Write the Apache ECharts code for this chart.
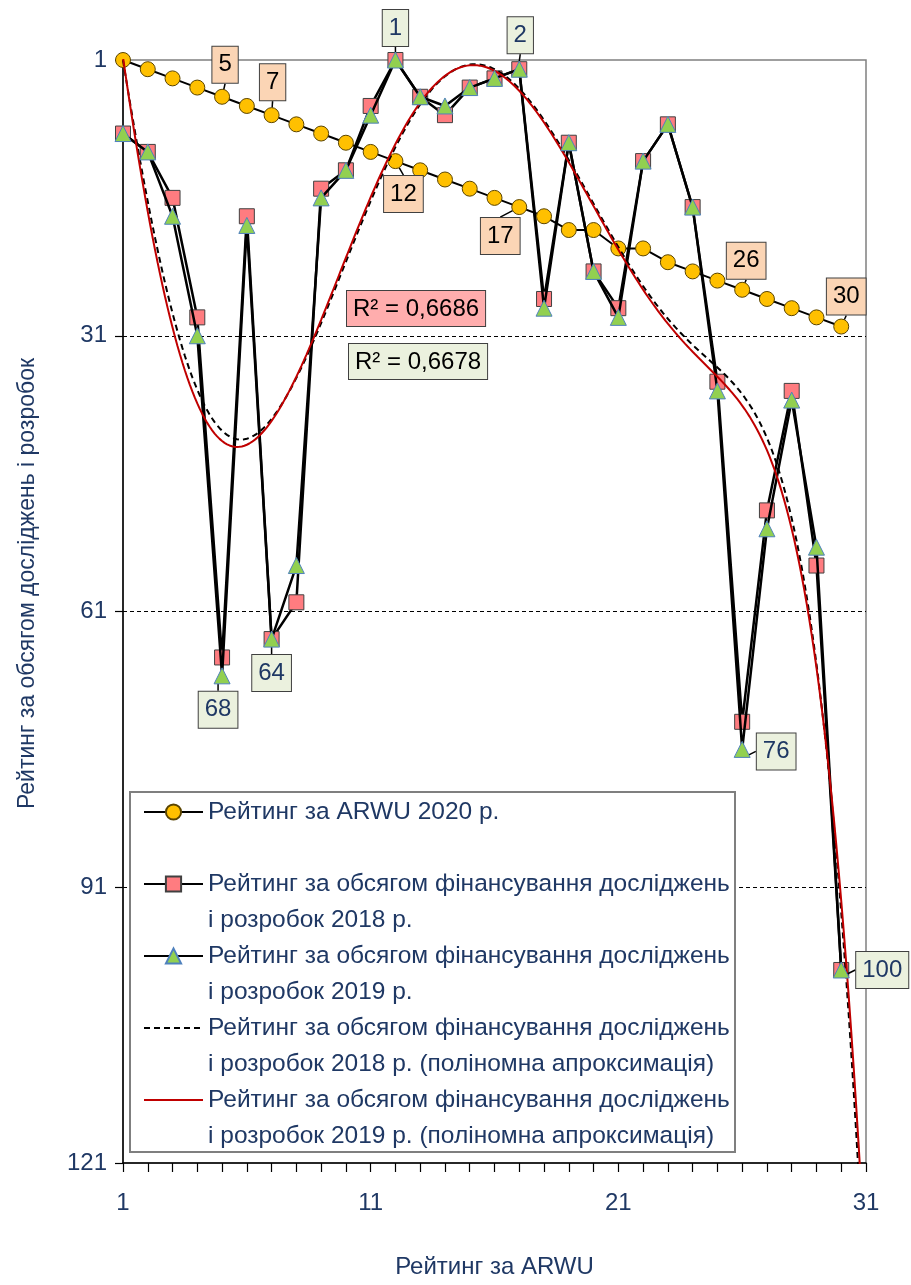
<!DOCTYPE html>
<html><head><meta charset="utf-8">
<script src="https://cdn.jsdelivr.net/npm/echarts@6/dist/echarts.min.js"></script>
<style>html,body{margin:0;padding:0;background:#fff}#chart{width:911px;height:1285px}</style>
</head><body><div id="chart"></div>
<script>
// ---- data ----
const xRanks = [1,2,3,4,5,6,7,8,9,10,11,12,13,14,15,16,17,18,19,20,21,22,23,24,25,26,27,28,29,30];
const arwu2020 = [1,2,3,4,5,6,7,8,9,10,11,12,13,14,15,16,17,18,19.5,19.5,21.5,21.5,23,24,25,26,27,28,29,30];
const rd2018 = [9,11,16,29,66,18,64,60,15,13,6,1,5,7,4,3,2,27,10,24,28,12,8,17,36,73,50,37,56,100];
const rd2019 = [9,11,18,31,68,19,64,56,16,13,7,1,5,6,4,3,2,28,10,24,29,12,8,17,37,76,52,38,54,100];
const labelledIdx = [4,6,11,16,25,29];
const seriesNames = [
  'Рейтинг за ARWU 2020 р.',
  'Рейтинг за обсягом фінансування досліджень\nі розробок 2018 р.',
  'Рейтинг за обсягом фінансування досліджень\nі розробок 2019 р.',
  'Рейтинг за обсягом фінансування досліджень\nі розробок 2018 р. (поліномна апроксимація)',
  'Рейтинг за обсягом фінансування досліджень\nі розробок 2019 р. (поліномна апроксимація)'
];
const r2Texts = ['R² = 0,6686', 'R² = 0,6678'];
const xTitle = 'Рейтинг за ARWU';
const yTitle = 'Рейтинг за обсягом досліджень і розробок';

// ---- layout (label offsets in px) ----
const arwuLabelOffset = {4:[3,-32],6:[1,-33],11:[8,33],16:[-19,29],25:[4,-29],29:[5,-30]};
const rd19LabelOffset = {4:[-4,34],6:[0,34],11:[0,-32],16:[1,-34],25:[34,2],29:[41,0]};

// ---- polynomial trend (least squares, order 6) ----
function polyfit(xs, ys, deg) {
  const c = 15.5, s = 14.5;
  const n = deg + 1;
  const M = Array.from({length:n}, () => new Array(n).fill(0));
  const b = new Array(n).fill(0);
  xs.forEach((x, k) => {
    const t = (x - c) / s;
    const p = [];
    for (let i = 0; i < n; i++) p.push(Math.pow(t, i));
    for (let i = 0; i < n; i++) {
      b[i] += p[i] * ys[k];
      for (let j = 0; j < n; j++) M[i][j] += p[i] * p[j];
    }
  });
  for (let i = 0; i < n; i++) {
    let piv = i;
    for (let r = i + 1; r < n; r++) if (Math.abs(M[r][i]) > Math.abs(M[piv][i])) piv = r;
    [M[i], M[piv]] = [M[piv], M[i]]; [b[i], b[piv]] = [b[piv], b[i]];
    for (let r = i + 1; r < n; r++) {
      const f = M[r][i] / M[i][i];
      for (let j = i; j < n; j++) M[r][j] -= f * M[i][j];
      b[r] -= f * b[i];
    }
  }
  const a = new Array(n).fill(0);
  for (let i = n - 1; i >= 0; i--) {
    let sum = b[i];
    for (let j = i + 1; j < n; j++) sum -= M[i][j] * a[j];
    a[i] = sum / M[i][i];
  }
  return x => { const t = (x - c) / s; let v = 0; for (let i = n - 1; i >= 0; i--) v = v * t + a[i]; return v; };
}
function trendData(ys) {
  const f = polyfit(xRanks, ys, 6);
  const out = [];
  for (let i = 0; i <= 300; i++) { const x = 1 + i * 0.1; out.push([x, f(x)]); }
  return out;
}

const navy = '#1F3864';
const font = 'Liberation Sans';

function pointData(vals, labelStyle) {
  return vals.map((v, i) => {
    const item = {value: [xRanks[i], v]};
    if (labelStyle && labelledIdx.includes(i)) item.label = Object.assign({show: true}, labelStyle);
    return item;
  });
}
const labelBase = {
  position: 'inside', fontSize: 24, fontFamily: font, lineHeight: 28,
  padding: [4, 6, 4, 6], borderColor: '#404040', borderWidth: 1,
  formatter: p => String(Math.round(p.value[1]))
};

const chart = echarts.init(document.getElementById('chart'));
chart.setOption({
  animation: false,
  grid: {left: 123, right: 45, top: 60, bottom: 122, show: true, borderColor: '#808080', borderWidth: 1.5, backgroundColor: 'transparent'},
  xAxis: {
    type: 'value', min: 1, max: 31, interval: 10,
    name: xTitle, nameLocation: 'middle', nameGap: 92,
    nameTextStyle: {fontSize: 24, color: navy, fontFamily: font},
    axisLine: {lineStyle: {color: '#000', width: 1.5}},
    axisTick: {show: true, length: 9, lineStyle: {color: '#000', width: 1.2}},
    minorTick: {show: true, splitNumber: 10, length: 9, lineStyle: {color: '#000', width: 1.2}},
    splitLine: {show: false},
    axisLabel: {fontSize: 24, color: navy, fontFamily: font, margin: 28}
  },
  yAxis: {
    type: 'value', inverse: true, min: 1, max: 121, interval: 30,
    name: yTitle, nameLocation: 'middle', nameGap: 84,
    nameTextStyle: {fontSize: 23, color: navy, fontFamily: font, padding: [0, 0, 0, 56]},
    axisLine: {show: true, lineStyle: {color: '#000', width: 1.5}},
    axisTick: {show: true, length: 8, lineStyle: {color: '#000', width: 1.2}},
    splitLine: {show: true, showMinLine: false, showMaxLine: false, lineStyle: {color: '#000', width: 1, type: [4, 3]}},
    axisLabel: {fontSize: 24, color: navy, fontFamily: font, margin: 16}
  },
  legend: {
    orient: 'vertical', left: 143, top: 758, padding: 0, itemGap: -36,
    itemWidth: 59, itemHeight: 19, selectedMode: false, z: 6,
    data: seriesNames,
    formatter: name => '\n' + name + (name.indexOf('\n') < 0 ? '\n' : ''),
    textStyle: {fontSize: 24.5, lineHeight: 36, color: navy, fontFamily: font}
  },
  graphic: [
    {type: 'rect', z: 3, shape: {x: 130, y: 792, width: 605, height: 360},
     style: {fill: '#fff', stroke: '#7f7f7f', lineWidth: 2}},
    {type: 'text', z: 5, left: 346, top: 290,
     style: {text: r2Texts[0], font: '24px "Liberation Sans"', fill: '#000', backgroundColor: '#FFADAD',
             borderColor: '#404040', borderWidth: 1, padding: [6, 6, 5, 6]}},
    {type: 'text', z: 5, left: 348, top: 343,
     style: {text: r2Texts[1], font: '24px "Liberation Sans"', fill: '#000', backgroundColor: '#EBF1DE',
             borderColor: '#404040', borderWidth: 1, padding: [6, 6, 5, 6]}}
  ],
  series: [
    {
      name: seriesNames[0], type: 'line', z: 3,
      data: pointData(arwu2020, Object.assign({}, labelBase, {backgroundColor: '#FBD5B5', color: '#000'})),
      symbol: 'circle', symbolSize: 15,
      itemStyle: {color: '#FFC000', borderColor: '#5a4400', borderWidth: 1},
      lineStyle: {color: '#000', width: 2},
      label: {show: false},
      labelLine: {show: true, lineStyle: {color: '#000', width: 1.5}},
      labelLayout: p => { const o = arwuLabelOffset[p.dataIndex]; return o ? {dx: o[0], dy: o[1]} : {}; }
    },
    {
      name: seriesNames[1], type: 'line', z: 3,
      data: pointData(rd2018, null),
      symbol: 'rect', symbolSize: 15,
      itemStyle: {color: '#FF7C80', borderColor: '#404040', borderWidth: 1},
      lineStyle: {color: '#000', width: 2.5},
      label: {show: false}
    },
    {
      name: seriesNames[2], type: 'line', z: 4,
      data: pointData(rd2019, Object.assign({}, labelBase, {backgroundColor: '#EBF1DE', color: navy})),
      symbol: 'triangle', symbolSize: 16,
      itemStyle: {color: '#92D050', borderColor: '#4F81BD', borderWidth: 1},
      lineStyle: {color: '#000', width: 2.5},
      label: {show: false},
      labelLine: {show: true, lineStyle: {color: '#000', width: 1.5}},
      labelLayout: p => { const o = rd19LabelOffset[p.dataIndex]; return o ? {dx: o[0], dy: o[1]} : {}; }
    },
    {
      name: seriesNames[3], type: 'line', z: 4, data: trendData(rd2018),
      symbol: 'none', clip: true,
      itemStyle: {color: 'rgba(0,0,0,0)', borderWidth: 0},
      lineStyle: {color: '#000', width: 2, type: [6, 4]}
    },
    {
      name: seriesNames[4], type: 'line', z: 4, data: trendData(rd2019),
      symbol: 'none', clip: true,
      itemStyle: {color: 'rgba(0,0,0,0)', borderWidth: 0},
      lineStyle: {color: '#C00000', width: 2}
    }
  ]
});
</script></body></html>
